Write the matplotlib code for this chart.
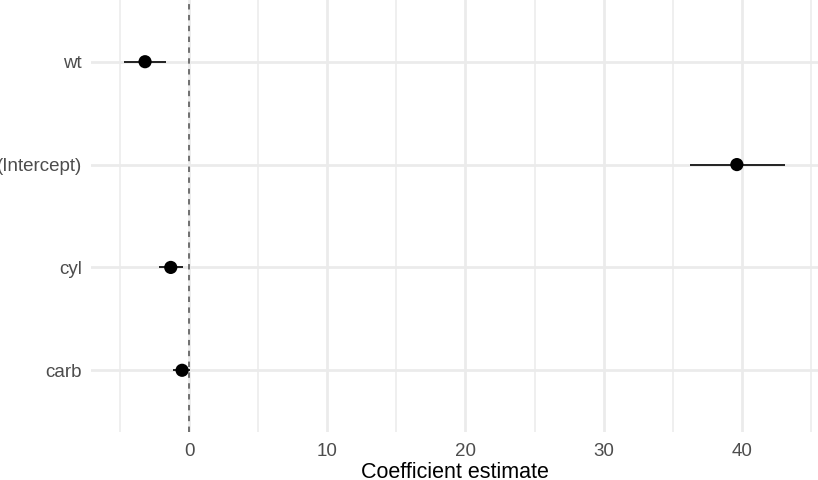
import numpy as np
import matplotlib
matplotlib.use("Agg")
from matplotlib import pyplot as plt

# coefficient table (top row first)
terms = ["wt", "(Intercept)", "cyl", "carb"]
estimate = [-3.19, 39.64, -1.33, -0.51]
conf_low = [-4.71, 36.23, -2.15, -1.14]
conf_high = [-1.67, 43.12, -0.41, 0.07]

xticks = [0, 10, 20, 30, 40]
xminor = [-5, 5, 15, 25, 35, 45]

plt.rcParams['font.family'] = ['Liberation Sans', 'DejaVu Sans']

fig = plt.figure(figsize=(8.18, 4.8), dpi=100)
ax = fig.add_axes([91 / 818, 48 / 480, 1 - 91 / 818, 432 / 480])

ypos = np.arange(len(terms))[::-1]

# grid
for x in xminor:
    ax.axvline(x, color="#EBEBEB", lw=1.1, zorder=0)
for x in xticks:
    ax.axvline(x, color="#EBEBEB", lw=2.0, zorder=0)
for y in ypos:
    ax.axhline(y, color="#EBEBEB", lw=2.0, zorder=0)

ax.axvline(0, color="#666666", lw=1.3, ls=(0, (3, 3)), zorder=1)

ax.hlines(ypos, conf_low, conf_high, color="black", lw=1.2, zorder=2)
ax.scatter(estimate, ypos, s=90, color="black", zorder=3, edgecolors="none")

lo, hi = min(conf_low), max(conf_high)
pad = 0.05 * (hi - lo)
ax.set_xlim(lo - pad, hi + pad)
ax.set_ylim(-0.6, len(terms) - 0.4)

ax.set_xticks(xticks)
ax.set_xticklabels([str(t) for t in xticks])
ax.set_yticks(ypos)
ax.set_yticklabels(terms)
ax.tick_params(axis="both", length=0, labelsize=13.5, labelcolor="#4D4D4D")
ax.tick_params(axis="x", pad=8)
ax.tick_params(axis="y", pad=6.5)
for s in ax.spines.values():
    s.set_visible(False)

ax.set_xlabel("Coefficient estimate", fontsize=15.5, color="black", labelpad=1)

fig.savefig("out.png", dpi=100)
